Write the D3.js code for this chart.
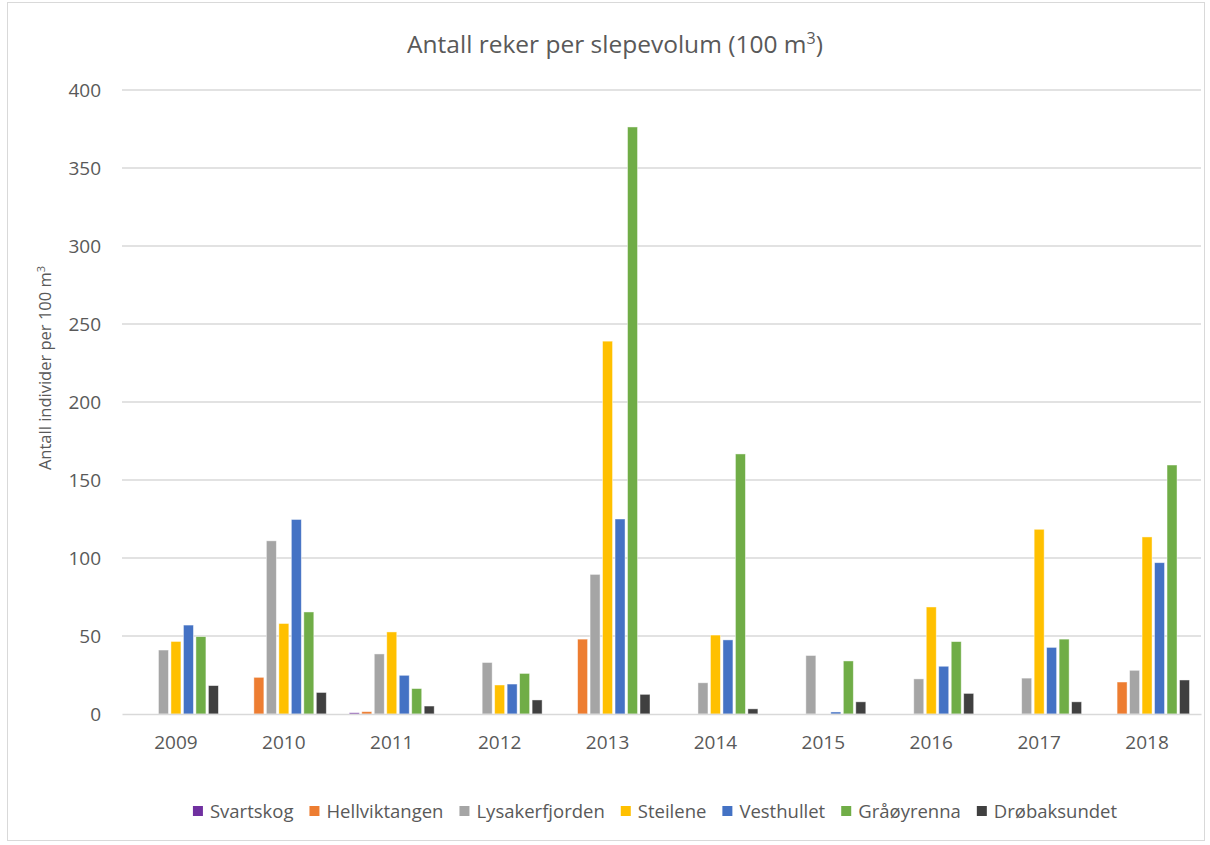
<!DOCTYPE html>
<html>
<head>
<meta charset="utf-8">
<script src="https://cdn.jsdelivr.net/npm/d3@7"></script>
<style>
  html, body { margin: 0; padding: 0; background: #fff; }
  svg { display: block; }
  text { font-family: "Open Sans", "Noto Sans", sans-serif; fill: #595959; }
</style>
</head>
<body>
<svg id="chart" width="1210" height="845"></svg>
<script>
// Shrimp counts per trawl volume (individuals per 100 m³), by station and year
const years = ["2009", "2010", "2011", "2012", "2013", "2014", "2015", "2016", "2017", "2018"];
const stations = ["Svartskog", "Hellviktangen", "Lysakerfjorden", "Steilene", "Vesthullet", "Gråøyrenna", "Drøbaksundet"];
const colors = ["#7030A0", "#ED7D31", "#A5A5A5", "#FFC000", "#4472C4", "#70AD47", "#404040"];

const svartskog      = [0, 0, 0.8, 0, 0, 0, 0, 0, 0, 0];
const hellviktangen  = [0, 23.5, 1.5, 0, 48, 0, 0, 0, 0, 20.5];
const lysakerfjorden = [41, 111, 38.5, 33, 89.5, 20, 37.5, 22.5, 23, 28];
const steilene       = [46.5, 58, 52.6, 18.6, 239, 50.6, 0, 68.6, 118.4, 113.5];
const vesthullet     = [57, 124.7, 24.8, 19.2, 125, 47.5, 1.3, 30.6, 42.7, 97];
const graaoyrenna    = [49.6, 65.4, 16.3, 26, 376.3, 166.7, 34, 46.4, 48, 159.6];
const drobaksundet   = [18.2, 13.8, 5.1, 9, 12.6, 3.3, 7.8, 13.2, 7.8, 21.8];

const seriesValues = [svartskog, hellviktangen, lysakerfjorden, steilene, vesthullet, graaoyrenna, drobaksundet];
const yTicks = [0, 50, 100, 150, 200, 250, 300, 350, 400];

const svg = d3.select("#chart");

// outer chart frame
svg.append("rect")
  .attr("x", 7.5).attr("y", 2.5)
  .attr("width", 1197).attr("height", 838)
  .attr("fill", "#fff").attr("stroke", "#d9d9d9").attr("stroke-width", 1);

const plot = { left: 122, right: 1201, top: 90, bottom: 714 };

const x0 = d3.scaleBand().domain(years).range([plot.left, plot.right]).paddingInner(0.19).paddingOuter(0.095);
const x1 = d3.scaleBand().domain(stations).range([0, x0.bandwidth()]).paddingInner(0.2).paddingOuter(0.1);
const y = d3.scaleLinear().domain([0, 400]).range([plot.bottom, plot.top]);

// horizontal gridlines
svg.append("g")
  .selectAll("line")
  .data(yTicks.filter(t => t > 0))
  .join("line")
  .attr("x1", plot.left).attr("x2", plot.right)
  .attr("y1", d => y(d)).attr("y2", d => y(d))
  .attr("stroke", "#d9d9d9").attr("stroke-width", 1.5);

// y axis labels
const yAxis = d3.axisLeft(y).tickValues(yTicks).tickSize(0).tickPadding(21);
const gy = svg.append("g").attr("transform", `translate(${plot.left},0)`).call(yAxis);
gy.select(".domain").remove();
gy.selectAll("text")
  .style("font-family", '"Open Sans", sans-serif')
  .style("font-size", "19px").attr("fill", "#595959");

// bars
const groups = svg.append("g")
  .selectAll("g")
  .data(years)
  .join("g")
  .attr("transform", d => `translate(${x0(d)},0)`);

groups.selectAll("rect")
  .data((yr, i) => stations.map((s, k) => ({ station: s, k, value: seriesValues[k][i] })))
  .join("rect")
  .filter(d => d.value > 0)
  .attr("x", d => x1(d.station))
  .attr("width", x1.bandwidth())
  .attr("y", d => y(d.value))
  .attr("height", d => y(0) - y(d.value))
  .attr("fill", d => colors[d.k])
  .attr("stroke", "#fff").attr("stroke-opacity", 0.55).attr("stroke-width", 0.8);

// category axis
const xAxis = d3.axisBottom(x0).tickSize(0).tickPadding(22);
const gx = svg.append("g").attr("transform", `translate(0,${plot.bottom})`).call(xAxis);
gx.select(".domain").attr("stroke", "#d9d9d9").attr("stroke-width", 1.5);
gx.selectAll("text")
  .style("font-family", '"Open Sans", sans-serif')
  .style("font-size", "19px").attr("fill", "#595959");

// title
const title = svg.append("text")
  .attr("x", 615).attr("y", 53)
  .attr("text-anchor", "middle")
  .style("font-size", "24.5px");
title.append("tspan").text("Antall reker per slepevolum (100 m");
title.append("tspan").attr("dy", -9).style("font-size", "16px").text("3");
title.append("tspan").attr("dy", 9).text(")");

// y axis title
const yTitle = svg.append("text")
  .attr("transform", "translate(51,368) rotate(-90)")
  .attr("text-anchor", "middle")
  .style("font-size", "16.5px");
yTitle.append("tspan").text("Antall individer per 100 m");
yTitle.append("tspan").attr("dy", -6).style("font-size", "11px").text("3");

// legend
const legend = svg.append("g");
const items = legend.selectAll("g").data(stations).join("g");
items.append("rect")
  .attr("width", 10).attr("height", 10)
  .attr("y", 806)
  .attr("fill", (d, i) => colors[i]);
items.append("text")
  .attr("y", 818)
  .attr("x", 17)
  .style("font-size", "18.5px")
  .text(d => d);
const widths = items.nodes().map(n => d3.select(n).select("text").node().getComputedTextLength() + 17);
const totalW = d3.sum(widths) + 16 * (widths.length - 1);
let cursor = 655 - totalW / 2;
items.each(function (d, i) {
  d3.select(this).attr("transform", `translate(${cursor},0)`);
  cursor += widths[i] + 16;
});
</script>
</body>
</html>
